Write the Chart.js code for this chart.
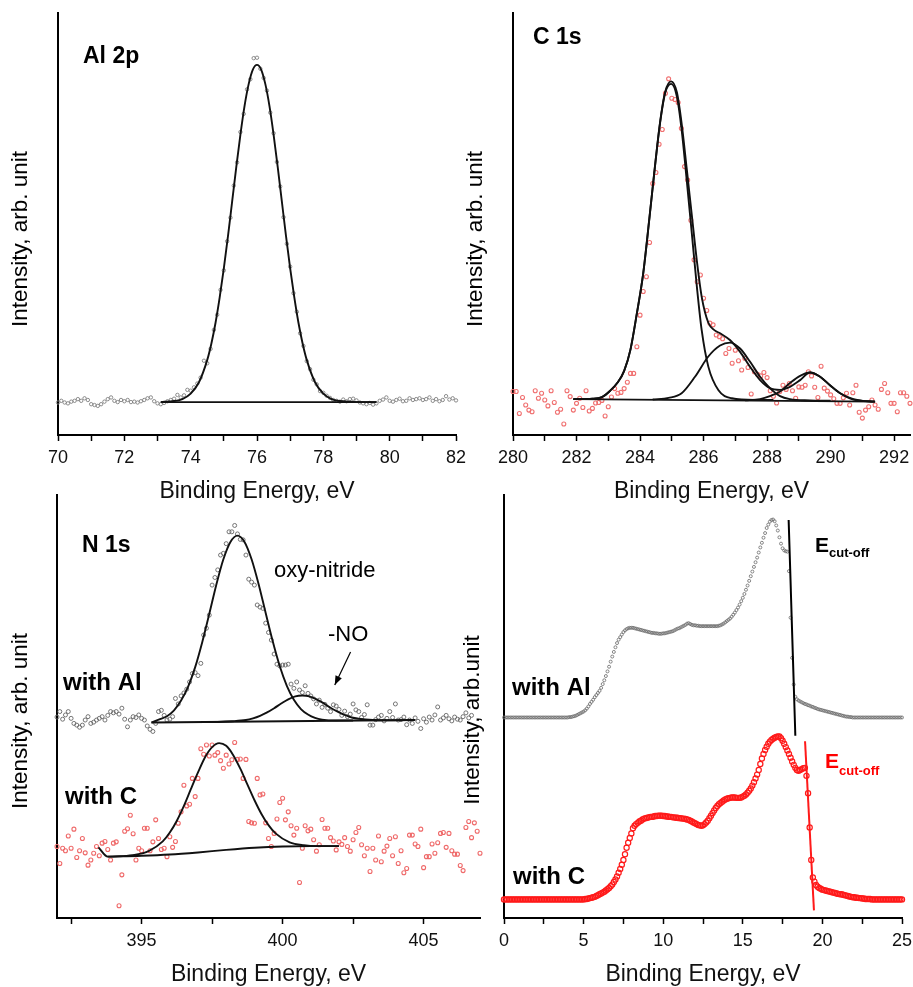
<!DOCTYPE html>
<html>
<head>
<meta charset="utf-8">
<title>XPS / UPS spectra</title>
<script src="https://cdn.jsdelivr.net/npm/chart.js@4.4.1/dist/chart.umd.min.js"></script>
<style>
  body { margin: 0; background: #fff; }
  #wrap { position: relative; width: 913px; height: 987px; overflow: hidden; }
  canvas { position: absolute; }
</style>
</head>
<body>
<div id="wrap">
  <canvas id="alChart" width="480" height="510" style="left:0px;top:0px"></canvas>
  <canvas id="cChart" width="458" height="510" style="left:455px;top:0px"></canvas>
  <canvas id="nChart" width="500" height="500" style="left:0px;top:487px"></canvas>
  <canvas id="vChart" width="458" height="500" style="left:455px;top:487px"></canvas>
</div>
<script>
// ---- Al 2p (grey points, 0.1 eV steps from 70 eV) ----
const alStart = 70, alStep = 0.1;
const alCounts = [
  7.7, 8.1, 7.7, 7.5, 7.9, 8.1, 8.5, 8.1, 8.7, 8.3,
  7.3, 7.1, 6.9, 7.3, 7.9, 8.5, 8.9, 8.1, 7.8, 8.3,
  8.0, 8.3, 7.8, 7.9, 7.7, 8.0, 8.3, 8.7, 8.9, 8.0,
  7.5, 7.3, 7.6, 8.0, 8.3, 8.6, 9.5, 8.9, 9.4, 10.7,
  10.5, 11.3, 12.2, 13.6, 17.6, 17.0, 20.4, 24.9, 28.5, 34.4,
  39.0, 45.9, 51.5, 59.1, 64.6, 71.8, 76.1, 81.9, 84.3, 89.3,
  89.4, 86.8, 84.6, 81.6, 76.4, 71.5, 64.7, 58.9, 51.6, 45.3,
  39.9, 33.6, 29.2, 24.1, 21.1, 17.5, 15.6, 13.1, 12.0, 10.4,
  10.0, 9.3, 8.8, 8.3, 8.1, 7.9, 8.4, 8.0, 8.5, 8.6,
  8.2, 7.7, 7.5, 7.3, 7.6, 7.2, 7.5, 8.1, 8.4, 8.9,
  8.1, 7.9, 8.3, 8.6, 8.0, 8.1, 8.7, 8.3, 8.5, 8.7,
  8.3, 8.5, 8.9, 8.1, 8.5, 8.0, 8.3, 9.2, 8.4, 8.7,
  8.2
];
const alFit = [[73.1,7.8],[73.5,8.05],[73.75,8.5],[74.0,9.8],[74.25,12.5],[74.5,17.8],[74.625,21.7],[74.75,26.6],[74.875,32.6],[75.0,39.5],[75.125,47.1],[75.25,55.3],[75.375,63.5],[75.5,71.2],[75.625,78.0],[75.75,83.2],[75.875,86.6],[76.0,87.7],[76.125,86.6],[76.25,83.2],[76.375,78.0],[76.5,71.2],[76.625,63.5],[76.75,55.3],[76.875,47.1],[77.0,39.5],[77.125,32.6],[77.25,26.6],[77.375,21.7],[77.5,17.8],[77.75,12.5],[78.0,9.8],[78.25,8.5],[78.5,8.05],[78.75,7.9],[79.0,7.8],[79.6,7.8]];
const alBaseline = [[73.1,7.8],[79.6,7.8]];
const alMajorTicks = [70, 72, 74, 76, 78, 80, 82];
const alAllTicks = [70, 71, 72, 73, 74, 75, 76, 77, 78, 79, 80, 81, 82];

// ---- C 1s (red points, 0.1 eV steps from 280 eV) ----
const cStart = 280, cStep = 0.1;
const cCounts = [
  10.3, 10.3, 5.1, 8.9, 7.1, 5.9, 5.5, 10.5, 8.7, 9.9,
  8.3, 6.9, 10.5, 7.7, 5.4, 6.1, 2.6, 10.5, 9.1, 5.9,
  7.5, 8.7, 6.5, 10.5, 5.7, 6.3, 7.6, 7.7, 8.2, 4.5,
  6.7, 9.0, 11.0, 9.9, 10.1, 11.0, 12.5, 14.6, 14.6, 20.9,
  28.4, 34.0, 37.5, 45.6, 59.6, 62.2, 68.9, 72.4, 81.0, 84.4,
  79.8, 79.5, 78.8, 72.7, 63.6, 60.4, 50.9, 41.5, 36.3, 37.9,
  32.4, 29.5, 26.5, 26.1, 23.7, 23.3, 22.8, 19.3, 20.5, 17.0,
  20.1, 17.6, 15.4, 18.2, 16.0, 9.7, 15.0, 14.4, 14.0, 14.8,
  13.6, 10.5, 9.2, 7.6, 10.3, 11.8, 10.8, 12.2, 10.5, 8.7,
  11.4, 11.3, 11.8, 15.0, 14.0, 11.3, 8.9, 16.3, 11.1, 10.4,
  9.5, 8.6, 7.5, 7.5, 8.8, 9.9, 7.1, 10.0, 11.8, 5.4,
  4.0, 5.9, 6.7, 8.3, 7.1, 6.1, 10.8, 12.2, 10.0, 7.5,
  7.5, 5.5, 10.0, 10.0, 9.2, 7.5
];
const cMainFit = [[281.9,8.5],[282.5,8.6],[282.8,9.0],[283.06,10.5],[283.3,12.5],[283.5,15.2],[283.7,20.3],[283.9,28.8],[284.1,38.3],[284.3,51.7],[284.47,63.6],[284.63,73.9],[284.79,81.0],[284.98,83.2],[285.16,80.2],[285.31,72.3],[285.47,60.4],[285.63,47.8],[285.79,35.1],[285.94,24.9],[286.15,16.2],[286.47,10.6],[286.89,8.7],[287.6,8.3],[288.2,8.3]];
const cSecondFit = [[284.4,8.4],[284.9,8.8],[285.31,9.9],[285.73,13.8],[286.15,18.6],[286.52,21.2],[286.83,21.9],[287.15,20.5],[287.46,17.4],[287.78,13.8],[288.09,11.1],[288.41,9.2],[288.72,8.5],[289.35,8.2],[290.0,8.1]];
const cThirdFit = [[287.3,8.2],[287.78,8.5],[288.09,9.2],[288.41,10.3],[288.72,12.3],[289.04,14.0],[289.35,14.8],[289.67,13.8],[289.98,11.8],[290.3,9.9],[290.72,8.5],[291.0,8.1],[291.4,7.9]];
const cEnvelope = [[281.9,8.5],[282.5,8.6],[282.8,9.0],[283.06,10.5],[283.3,12.5],[283.5,15.2],[283.7,20.3],[283.9,28.8],[284.1,38.3],[284.3,51.8],[284.47,63.7],[284.63,74.1],[284.79,81.3],[284.98,83.8],[285.16,81.2],[285.31,73.8],[285.47,63.1],[285.63,52.1],[285.79,41.2],[285.94,32.8],[286.15,26.6],[286.35,24.8],[286.52,24.1],[286.83,22.5],[287.15,19.7],[287.46,16.2],[287.78,13.0],[288.09,11.1],[288.41,10.7],[288.72,11.4],[289.04,13.0],[289.35,14.8],[289.67,13.8],[289.98,11.8],[290.3,9.9],[290.72,8.4],[291.4,7.9]];
const cBaseline = [[281.9,8.5],[291.4,7.9]];
const cMajorTicks = [280, 282, 284, 286, 288, 290, 292];
const cAllTicks = [280, 281, 282, 283, 284, 285, 286, 287, 288, 289, 290, 291, 292];

// ---- N 1s (0.1 eV steps from 392 eV) ----
const nStart = 392, nStep = 0.1;
const nAlCounts = [
  47.5, 48.8, 47.0, 48.0, 48.8, 47.2, 46.0, 45.6, 45.1, 45.6,
  46.8, 47.6, 46.0, 46.3, 46.8, 47.2, 47.6, 46.8, 47.9, 48.8,
  48.5, 48.8, 48.2, 49.6, 47.0, 45.2, 46.8, 47.6, 47.4, 48.0,
  47.2, 46.8, 45.4, 44.6, 44.1, 46.0, 48.8, 49.1, 47.9, 46.8,
  47.0, 47.6, 51.9, 50.6, 52.5, 53.2, 54.1, 55.8, 57.8, 58.0,
  57.3, 60.2, 66.9, 68.5, 71.6, 78.7, 80.5, 82.3, 85.8, 86.2,
  88.5, 91.3, 91.3, 92.8, 90.8, 89.5, 89.4, 85.8, 80.1, 79.4,
  78.7, 74.0, 73.5, 73.2, 69.7, 67.5, 65.7, 62.4, 60.0, 59.6,
  59.8, 59.8, 60.0, 55.3, 54.3, 55.8, 53.9, 53.3, 54.9, 53.1,
  52.5, 51.8, 50.6, 51.5, 49.8, 50.5, 49.6, 48.8, 50.4, 50.1,
  49.3, 47.9, 48.9, 47.6, 48.2, 50.6, 49.2, 48.8, 47.4, 48.1,
  50.4, 45.6, 45.6, 46.9, 47.5, 47.9, 46.6, 47.2, 48.8, 47.4,
  50.6, 46.8, 46.9, 47.5, 45.7, 46.8, 46.0, 47.3, 46.5, 44.8,
  47.1, 46.3, 47.5, 46.8, 48.0, 49.9, 46.8, 47.3, 47.9, 47.1,
  46.6, 47.5, 47.0, 46.8, 47.6, 48.5, 47.3, 47.9
];
const nCCounts = [
  16.9, 12.9, 16.5, 15.9, 19.4, 16.5, 21.0, 14.3, 15.9, 18.8,
  15.4, 12.5, 13.7, 15.3, 16.9, 14.7, 17.7, 18.1, 16.2, 13.7,
  17.7, 18.0, 2.9, 10.2, 20.5, 21.1, 24.3, 19.9, 13.7, 16.5,
  15.9, 21.2, 21.2, 15.9, 18.0, 23.2, 18.8, 16.2, 16.5, 14.5,
  19.2, 16.7, 18.1, 22.4, 25.1, 31.4, 26.5, 26.9, 33.0, 28.7,
  33.0, 40.0, 38.7, 40.9, 38.3, 40.9, 38.5, 39.1, 37.2, 35.4,
  38.5, 36.4, 37.4, 41.5, 37.5, 37.6, 33.0, 37.5, 22.8, 22.5,
  22.4, 33.0, 29.1, 29.3, 22.5, 18.8, 16.9, 20.0, 23.4, 27.3,
  28.3, 23.2, 25.1, 21.8, 19.6, 21.2, 8.4, 16.5, 21.8, 20.6,
  21.0, 18.5, 15.8, 17.3, 23.3, 21.2, 21.2, 19.0, 18.2, 16.1,
  18.0, 17.4, 19.0, 16.9, 15.8, 18.5, 20.2, 21.4, 17.3, 14.7,
  16.5, 11.0, 16.5, 13.7, 19.4, 13.3, 15.8, 17.0, 18.8, 14.7,
  19.2, 12.9, 15.9, 10.7, 11.7, 19.6, 19.6, 17.5, 16.9, 21.0,
  11.9, 14.5, 14.5, 17.5, 15.3, 17.8, 20.0, 20.2, 16.7, 20.0,
  15.9, 15.1, 15.1, 12.4, 11.2, 21.4, 22.8, 19.0, 22.5, 20.5,
  15.3
];
const nAlMainFit = [[395.35,46.2],[395.65,47.0],[395.9,47.7],[396.15,49.1],[396.4,51.4],[396.65,54.7],[396.9,59.3],[397.15,65.2],[397.4,71.9],[397.65,78.8],[397.9,84.8],[398.15,88.9],[398.4,90.4],[398.65,88.9],[398.9,84.8],[399.15,78.9],[399.4,72.1],[399.65,65.4],[399.9,59.5],[400.15,54.9],[400.4,51.6],[400.65,49.4],[400.9,48.1],[401.15,47.3],[401.4,46.9],[401.9,46.7],[402.5,46.7]];
const nAlNOFit = [[397.2,46.3],[397.7,46.35],[398.2,46.5],[398.7,46.8],[398.95,47.2],[399.2,47.8],[399.45,48.6],[399.7,49.6],[399.95,50.7],[400.2,51.7],[400.45,52.4],[400.7,52.6],[400.95,52.4],[401.2,51.7],[401.45,50.8],[401.7,49.7],[401.95,48.8],[402.2,48.0],[402.45,47.4],[402.7,47.1],[403.2,46.8],[403.7,46.73],[404.7,46.8]];
const nAlBaseline = [[395.35,46.2],[404.7,46.8]];
const nCFit = [[393.47,16.7],[393.8,14.5],[394.25,14.6],[394.75,14.9],[395.25,15.8],[395.75,18.1],[396.0,20.2],[396.25,23.0],[396.5,26.5],[396.75,30.5],[397.0,34.4],[397.25,38.0],[397.5,40.4],[397.75,41.35],[398.0,40.7],[398.25,38.5],[398.5,35.3],[398.75,31.6],[399.0,27.9],[399.25,24.6],[399.5,21.95],[399.75,20.0],[400.25,17.9],[400.75,17.2],[401.25,17.0],[402.0,17.0]];
const nCBaseline = [[393.8,14.5],[395,14.7],[396,15.0],[397,15.5],[398,16.1],[399,16.6],[400,16.9],[401,17.0],[402,17.0]];
const nMajorTicks = [395, 400, 405];
const nAllTicks = [392.5, 395, 397.5, 400, 402.5, 405];

// ---- valence band / cut-off (0.1 eV steps from 0 eV) ----
const vStart = 0, vStep = 0.1;
const vAlCounts = [
  47.4, 47.4, 47.4, 47.4, 47.4, 47.4, 47.4, 47.4, 47.4, 47.4,
  47.4, 47.4, 47.4, 47.4, 47.4, 47.4, 47.4, 47.4, 47.4, 47.4,
  47.4, 47.4, 47.4, 47.4, 47.4, 47.4, 47.4, 47.4, 47.4, 47.4,
  47.4, 47.4, 47.4, 47.4, 47.4, 47.4, 47.4, 47.4, 47.4, 47.4,
  47.4, 47.5, 47.5, 47.6, 47.7, 47.8, 48.0, 48.2, 48.4, 48.6,
  48.8, 49.1, 49.5, 50.0, 50.6, 51.1, 51.6, 52.2, 52.7, 53.2,
  53.7, 54.4, 55.3, 56.2, 57.2, 58.3, 59.4, 60.6, 61.8, 62.9,
  64.0, 65.0, 65.8, 66.4, 67.0, 67.6, 68.0, 68.3, 68.5, 68.6,
  68.6, 68.6, 68.5, 68.4, 68.3, 68.2, 68.1, 68.0, 67.9, 67.8,
  67.7, 67.6, 67.5, 67.4, 67.4, 67.3, 67.3, 67.2, 67.2, 67.2,
  67.3, 67.3, 67.4, 67.5, 67.6, 67.7, 67.8, 68.0, 68.2, 68.4,
  68.5, 68.7, 68.9, 69.1, 69.3, 69.6, 69.7, 69.5, 69.3, 69.2,
  69.2, 69.1, 69.1, 69.0, 69.0, 69.0, 69.0, 69.0, 69.0, 69.0,
  69.0, 69.0, 69.0, 69.0, 69.0, 69.1, 69.2, 69.4, 69.6, 69.9,
  70.2, 70.5, 70.8, 71.2, 71.7, 72.2, 72.8, 73.4, 74.1, 74.9,
  75.7, 76.6, 77.6, 78.6, 79.7, 80.8, 81.9, 83.0, 84.1, 85.2,
  86.4, 87.6, 88.7, 89.9, 91.0, 92.2, 93.0, 93.7, 94.1, 94.2,
  93.8, 92.8, 91.6, 90.0, 88.5, 87.4, 86.9, 86.7, 86.6, 82.0,
  71.0, 61.5, 55.2, 52.3, 51.7, 51.4, 51.2, 51.0, 50.8, 50.6,
  50.5, 50.3, 50.2, 50.0, 49.9, 49.7, 49.6, 49.4, 49.3, 49.2,
  49.1, 49.0, 48.9, 48.8, 48.7, 48.6, 48.5, 48.4, 48.3, 48.2,
  48.1, 48.0, 47.9, 47.8, 47.7, 47.6, 47.6, 47.5, 47.5, 47.4,
  47.4, 47.4, 47.4, 47.4, 47.4, 47.4, 47.4, 47.4, 47.4, 47.4,
  47.4, 47.4, 47.4, 47.4, 47.4, 47.4, 47.4, 47.4, 47.4, 47.4,
  47.4, 47.4, 47.4, 47.4, 47.4, 47.4, 47.4, 47.4, 47.4, 47.4,
  47.4
];
const vCCounts = [
  4.4, 4.4, 4.4, 4.4, 4.4, 4.4, 4.4, 4.4, 4.4, 4.4,
  4.4, 4.4, 4.4, 4.4, 4.4, 4.4, 4.4, 4.4, 4.4, 4.4,
  4.4, 4.4, 4.4, 4.4, 4.4, 4.4, 4.4, 4.4, 4.4, 4.4,
  4.4, 4.4, 4.4, 4.4, 4.4, 4.4, 4.4, 4.4, 4.4, 4.4,
  4.4, 4.4, 4.4, 4.4, 4.4, 4.4, 4.4, 4.4, 4.4, 4.4,
  4.4, 4.5, 4.5, 4.6, 4.7, 4.8, 4.9, 5.0, 5.2, 5.4,
  5.6, 5.8, 6.0, 6.2, 6.5, 6.8, 7.1, 7.5, 7.9, 8.5,
  9.1, 9.8, 10.7, 11.6, 12.6, 13.7, 15.1, 16.6, 17.8, 18.9,
  20.0, 21.2, 21.8, 22.2, 22.5, 22.8, 23.0, 23.3, 23.5, 23.6,
  23.7, 23.8, 23.9, 23.9, 24.0, 24.1, 24.1, 24.2, 24.2, 24.2,
  24.1, 24.1, 24.0, 24.0, 23.9, 23.9, 23.8, 23.8, 23.7, 23.7,
  23.6, 23.6, 23.5, 23.5, 23.4, 23.3, 23.2, 23.0, 22.8, 22.6,
  22.4, 22.2, 22.0, 21.9, 21.8, 21.9, 22.2, 22.6, 23.0, 23.6,
  24.2, 24.8, 25.4, 26.0, 26.5, 26.9, 27.2, 27.5, 27.8, 28.0,
  28.2, 28.3, 28.4, 28.5, 28.5, 28.5, 28.4, 28.4, 28.4, 28.5,
  28.7, 28.9, 29.2, 29.6, 30.1, 30.6, 31.3, 32.1, 33.0, 33.9,
  35.0, 36.4, 37.7, 38.8, 39.7, 40.5, 41.2, 41.7, 42.1, 42.4,
  42.6, 42.8, 42.9, 42.9, 42.5, 41.9, 41.2, 40.4, 39.6, 38.8,
  37.9, 37.0, 36.2, 35.5, 35.0, 34.8, 35.0, 35.2, 35.4, 35.5,
  33.6, 29.5, 21.4, 13.7, 9.6, 8.6, 7.8, 7.4, 7.1, 6.9,
  6.7, 6.6, 6.5, 6.4, 6.3, 6.2, 6.1, 6.0, 5.9, 5.8,
  5.7, 5.6, 5.6, 5.5, 5.4, 5.3, 5.2, 5.1, 5.0, 4.9,
  4.9, 4.8, 4.8, 4.7, 4.7, 4.6, 4.6, 4.5, 4.5, 4.5,
  4.5, 4.4, 4.4, 4.4, 4.4, 4.4, 4.4, 4.4, 4.4, 4.4,
  4.4, 4.4, 4.4, 4.4, 4.4, 4.4, 4.4, 4.4, 4.4, 4.4,
  4.4
];
const vAlCutoff = [[17.88,94.1],[18.3,43.1]];
const vCCutoff = [[18.91,41.8],[19.47,1.8]];
const vMajorTicks = [0, 5, 10, 15, 20, 25];
const vAllTicks = [0, 2.5, 5, 7.5, 10, 12.5, 15, 17.5, 20, 22.5, 25];

// ---------------------------------------------------------------
const FONT = "'Liberation Sans', Arial, Helvetica, sans-serif";

const pairs = arr => arr.map(([x, y]) => ({ x, y }));
const spectrum = (start, step, vals) => vals.map((y, i) => ({ x: +(start + i * step).toFixed(2), y }));

function fitLine(points, color = '#111', width = 1.9) {
  return {
    data: pairs(points), showLine: true, pointRadius: 0, borderColor: color,
    borderWidth: width, cubicInterpolationMode: 'monotone', fill: false
  };
}

function dots(points, color, r, lw) {
  return {
    data: points, showLine: false, pointStyle: 'circle', pointRadius: r,
    pointBorderColor: color, pointBackgroundColor: 'rgba(0,0,0,0)', pointBorderWidth: lw, clip: 4
  };
}

// texts, subscripts and arrows drawn on top of each panel
function notesPlugin(texts, arrows) {
  return {
    id: 'notes',
    afterDraw(chart) {
      const ctx = chart.ctx;
      ctx.save();
      texts.forEach(t => {
        ctx.font = t.font;
        ctx.fillStyle = t.color || '#000';
        if (t.rotate) {
          ctx.save();
          ctx.translate(t.x, t.y);
          ctx.rotate(-Math.PI / 2);
          ctx.textAlign = 'center';
          ctx.textBaseline = 'middle';
          ctx.fillText(t.text, 0, 0);
          ctx.restore();
        } else {
          ctx.textAlign = 'left';
          ctx.textBaseline = 'alphabetic';
          ctx.fillText(t.text, t.x, t.y);
          if (t.sub) {
            const w = ctx.measureText(t.text).width;
            ctx.font = t.subFont;
            ctx.fillText(t.sub, t.x + w, t.y + t.subDy);
          }
        }
      });
      (arrows || []).forEach(a => {
        const xs = chart.scales.x, ys = chart.scales.y;
        const x1 = xs.getPixelForValue(a.from[0]), y1 = ys.getPixelForValue(a.from[1]);
        const x2 = xs.getPixelForValue(a.to[0]), y2 = ys.getPixelForValue(a.to[1]);
        ctx.strokeStyle = '#000';
        ctx.lineWidth = 1.2;
        ctx.beginPath(); ctx.moveTo(x1, y1); ctx.lineTo(x2, y2); ctx.stroke();
        const ang = Math.atan2(y2 - y1, x2 - x1), L = 9, W = 3.5;
        ctx.beginPath();
        ctx.moveTo(x2, y2);
        ctx.lineTo(x2 - L * Math.cos(ang) + W * Math.sin(ang), y2 - L * Math.sin(ang) - W * Math.cos(ang));
        ctx.lineTo(x2 - L * Math.cos(ang) - W * Math.sin(ang), y2 - L * Math.sin(ang) + W * Math.cos(ang));
        ctx.closePath();
        ctx.fillStyle = '#000';
        ctx.fill();
      });
      ctx.restore();
    }
  };
}

// area: chart area inside the canvas (left, top, right, bottom)
function makePanel(id, p) {
  const canvas = document.getElementById(id);
  const W = canvas.width, H = canvas.height;
  return new Chart(canvas.getContext('2d'), {
    type: 'scatter',
    data: { datasets: p.datasets },
    options: {
      responsive: false,
      animation: false,
      events: [],
      layout: { autoPadding: false, padding: { left: 0, top: p.area.t, right: W - p.area.r, bottom: 0 } },
      plugins: { legend: { display: false }, tooltip: { enabled: false } },
      scales: {
        x: {
          type: 'linear', min: p.xMin, max: p.xMax, bounds: 'data',
          afterBuildTicks: s => { s.ticks = p.allTicks.map(v => ({ value: v })); },
          afterFit: s => { s.height = H - p.area.b; s.paddingLeft = 0; s.paddingRight = 0; },
          ticks: {
            callback: v => (p.majorTicks.includes(v) ? String(v) : ''),
            autoSkip: false, maxRotation: 0, padding: 6, color: '#111',
            font: { family: FONT, size: 18 }
          },
          grid: { display: true, drawOnChartArea: false, drawTicks: true, tickLength: 6, tickColor: '#000', tickWidth: 1.5 },
          border: { display: true, color: '#000', width: 2 },
          title: {
            display: true, text: 'Binding Energy, eV', color: '#111',
            font: { family: FONT, size: 23, lineHeight: 1 },
            padding: { top: 0, bottom: p.titlePad }
          }
        },
        y: {
          min: 0, max: 100,
          afterFit: s => { s.width = p.area.l; s.paddingTop = 0; s.paddingBottom = 0; },
          ticks: { display: false },
          grid: { display: false },
          border: { display: true, color: '#000', width: 2 }
        }
      }
    },
    plugins: [notesPlugin(p.texts, p.arrows)]
  });
}

const boldBig = 'bold 24px ' + FONT;
const panelFont = 'bold 23px ' + FONT;
const plainFont = '22px ' + FONT;
const axisFont = '22.5px ' + FONT;

// Al 2p
makePanel('alChart', {
  xMin: 70, xMax: 82, majorTicks: alMajorTicks, allTicks: alAllTicks,
  area: { l: 58, t: 13, r: 456, b: 435 }, titlePad: 7,
  datasets: [
    fitLine(alFit),
    fitLine(alBaseline),
    dots(spectrum(alStart, alStep, alCounts), '#808080', 1.7, 0.9)
  ],
  texts: [
    { text: 'Al 2p', x: 83, y: 63, font: panelFont },
    { text: 'Intensity, arb. unit', x: 21, y: 239, font: axisFont, rotate: true }
  ]
});

// C 1s
makePanel('cChart', {
  xMin: 280, xMax: 292.5, majorTicks: cMajorTicks, allTicks: cAllTicks,
  area: { l: 58, t: 13, r: 455, b: 435 }, titlePad: 7,
  datasets: [
    fitLine(cEnvelope),
    fitLine(cMainFit),
    fitLine(cSecondFit),
    fitLine(cThirdFit),
    fitLine(cBaseline),
    dots(spectrum(cStart, cStep, cCounts), '#f07070', 2, 1.1)
  ],
  texts: [
    { text: 'C 1s', x: 78, y: 44, font: panelFont },
    { text: 'Intensity, arb. unit', x: 21, y: 239, font: axisFont, rotate: true }
  ]
});

// N 1s
makePanel('nChart', {
  xMin: 392, xMax: 407, majorTicks: nMajorTicks, allTicks: nAllTicks,
  area: { l: 57, t: 8, r: 480, b: 431 }, titlePad: 1,
  datasets: [
    fitLine(nAlMainFit),
    fitLine(nAlNOFit),
    fitLine(nAlBaseline),
    fitLine(nCFit),
    fitLine(nCBaseline),
    dots(spectrum(nStart, nStep, nAlCounts), '#666666', 2, 0.9),
    dots(spectrum(nStart, nStep, nCCounts), '#ef6a6a', 2, 1.1)
  ],
  texts: [
    { text: 'N 1s', x: 82, y: 65, font: panelFont },
    { text: 'oxy-nitride', x: 274, y: 90, font: plainFont },
    { text: '-NO', x: 328, y: 154, font: plainFont },
    { text: 'with Al', x: 63, y: 203, font: boldBig },
    { text: 'with C', x: 65, y: 317, font: boldBig },
    { text: 'Intensity, arb. unit', x: 21, y: 234, font: axisFont, rotate: true }
  ],
  arrows: [{ from: [402.41, 62.9], to: [401.85, 55.1] }]
});

// valence band with cut-off
makePanel('vChart', {
  xMin: 0, xMax: 25, majorTicks: vMajorTicks, allTicks: vAllTicks,
  area: { l: 49, t: 8, r: 447, b: 431 }, titlePad: 1,
  datasets: [
    fitLine(vAlCutoff, '#000', 2),
    fitLine(vCCutoff, '#ff1a1a', 2),
    dots(spectrum(vStart, vStep, vAlCounts), '#6a6a6a', 1.5, 0.8),
    dots(spectrum(vStart, vStep, vCCounts), '#ff1a1a', 2.6, 1.2)
  ],
  texts: [
    { text: 'with Al', x: 57, y: 208, font: boldBig },
    { text: 'with C', x: 58, y: 397, font: boldBig },
    { text: 'E', x: 360, y: 65, font: 'bold 21px ' + FONT, sub: 'cut-off', subFont: 'bold 13px ' + FONT, subDy: 5 },
    { text: 'E', x: 370, y: 281, font: 'bold 21px ' + FONT, color: '#ff0000', sub: 'cut-off', subFont: 'bold 13px ' + FONT, subDy: 7 },
    { text: 'Intensity, arb.unit', x: 18, y: 233, font: axisFont, rotate: true }
  ]
});
</script>
</body>
</html>
